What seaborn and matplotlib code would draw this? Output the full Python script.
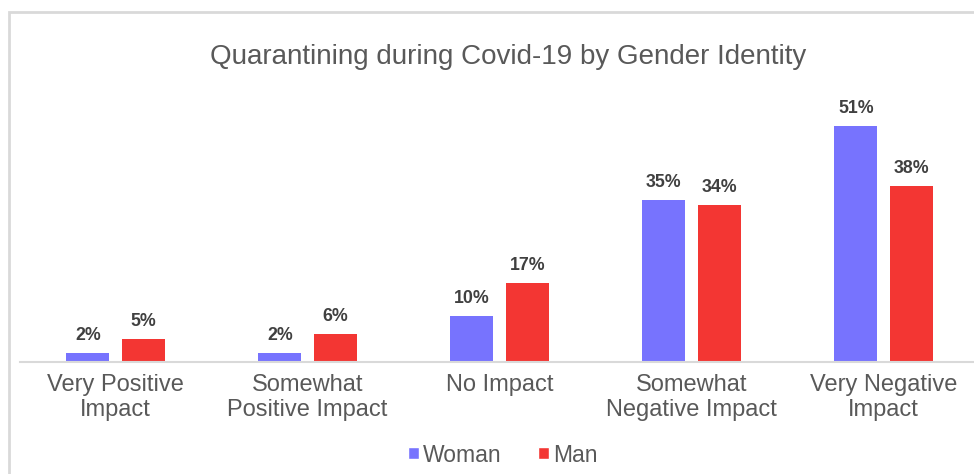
import matplotlib
matplotlib.use("Agg")
import matplotlib.pyplot as plt
import seaborn as sns
import pandas as pd
from matplotlib.patches import Rectangle, Patch

categories = ["Very Positive\nImpact", "Somewhat\nPositive Impact", "No Impact",
              "Somewhat\nNegative Impact", "Very Negative\nImpact"]
genders = ["Woman", "Man"]
woman = [2, 2, 10, 35, 51]
man = [5, 6, 17, 34, 38]
colors = ["#7773FE", "#F33633"]
title = "Quarantining during Covid-19 by Gender Identity"

df = pd.DataFrame({
    "category": categories * 2,
    "gender": [genders[0]] * len(woman) + [genders[1]] * len(man),
    "value": woman + man,
})

sns.set_theme(style="white")
plt.rcParams['font.family'] = ['Liberation Sans', 'DejaVu Sans']

W, H = 974, 474
fig = plt.figure(figsize=(W / 100, H / 100), dpi=100)
ax = fig.add_axes([19.5 / W, 1 - 362 / H, 960 / W, 262 / H])
sns.barplot(data=df, x="category", y="value", hue="gender", hue_order=genders,
            palette=colors, width=0.578, gap=0.225, saturation=1, linewidth=0,
            legend=False, ax=ax)
ax.set_xlim(-0.5, 4.5)
ax.set_ylim(0, 262 / 4.63)

for cont in ax.containers:
    ax.bar_label(cont, labels=[f"{v:.0f}%" for v in cont.datavalues], padding=6.5,
                 fontsize=12.8, fontweight='bold', color='#404040')

for s in ["top", "right", "left"]:
    ax.spines[s].set_visible(False)
ax.spines["bottom"].set_color("#D9D9D9")
ax.spines["bottom"].set_linewidth(1.5)
ax.set_yticks([])
ax.set_xlabel("")
ax.set_ylabel("")
ax.tick_params(axis='x', length=0, pad=8.5, labelsize=17, colors='#595959')
for t in ax.get_xticklabels():
    t.set_linespacing(1.2)

fig.text(508 / W, 1 - 57 / H, title, ha='center', va='center', fontsize=20, color='#595959')

fig.add_artist(Rectangle((9 / W, -0.1), 1.2, (1 - 12 / H) + 0.1, transform=fig.transFigure,
                         fill=False, edgecolor='#D9D9D9', linewidth=2))

handles = [Patch(facecolor=c, label=g) for c, g in zip(colors, genders)]
fig.legend(handles=handles, loc='center', bbox_to_anchor=(503 / W, 1 - 455 / H), ncol=2,
           frameon=False, fontsize=16.5, labelcolor='#595959', handlelength=0.45,
           handleheight=0.45, handletextpad=0.2, columnspacing=1.6)

fig.savefig("out.png", dpi=100)
